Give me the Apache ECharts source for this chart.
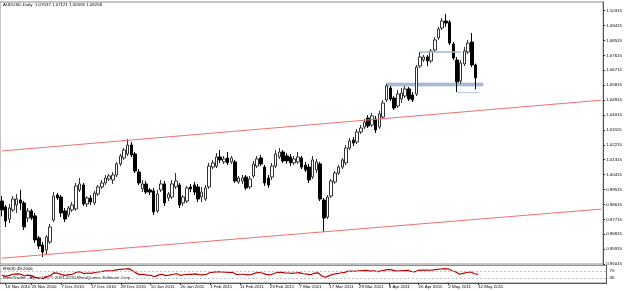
<!DOCTYPE html>
<html>
<head>
<meta charset="utf-8">
<title>AUDUSD Daily</title>
<script src="https://cdn.jsdelivr.net/npm/echarts@6/dist/echarts.min.js"></script>
<style>
html, body { margin: 0; padding: 0; background: #fff; }
#chart { width: 625px; height: 291px; }
</style>
</head>
<body>
<div id="chart"></div>
<script>
var symbolName = "AUDUSD,Daily";

var dates = [
  "15 Nov 2010","16 Nov 2010","17 Nov 2010","18 Nov 2010","19 Nov 2010","22 Nov 2010","23 Nov 2010","24 Nov 2010","25 Nov 2010","26 Nov 2010","29 Nov 2010","30 Nov 2010",
  "1 Dec 2010","2 Dec 2010","3 Dec 2010","6 Dec 2010","7 Dec 2010","8 Dec 2010","9 Dec 2010","10 Dec 2010","13 Dec 2010","14 Dec 2010","15 Dec 2010","16 Dec 2010","17 Dec 2010","20 Dec 2010","21 Dec 2010","22 Dec 2010","23 Dec 2010","24 Dec 2010","27 Dec 2010","28 Dec 2010","29 Dec 2010","30 Dec 2010","31 Dec 2010",
  "3 Jan 2011","4 Jan 2011","5 Jan 2011","6 Jan 2011","7 Jan 2011","10 Jan 2011","11 Jan 2011","12 Jan 2011","13 Jan 2011","14 Jan 2011","17 Jan 2011","18 Jan 2011","19 Jan 2011","20 Jan 2011","21 Jan 2011","24 Jan 2011","25 Jan 2011","26 Jan 2011","27 Jan 2011","28 Jan 2011","31 Jan 2011",
  "1 Feb 2011","2 Feb 2011","3 Feb 2011","4 Feb 2011","7 Feb 2011","8 Feb 2011","9 Feb 2011","10 Feb 2011","11 Feb 2011","14 Feb 2011","15 Feb 2011","16 Feb 2011","17 Feb 2011","18 Feb 2011","21 Feb 2011","22 Feb 2011","23 Feb 2011","24 Feb 2011","25 Feb 2011","28 Feb 2011",
  "1 Mar 2011","2 Mar 2011","3 Mar 2011","4 Mar 2011","7 Mar 2011","8 Mar 2011","9 Mar 2011","10 Mar 2011","11 Mar 2011","14 Mar 2011","15 Mar 2011","16 Mar 2011","17 Mar 2011","18 Mar 2011","21 Mar 2011","22 Mar 2011","23 Mar 2011","24 Mar 2011","25 Mar 2011","28 Mar 2011","29 Mar 2011","30 Mar 2011","31 Mar 2011",
  "1 Apr 2011","4 Apr 2011","5 Apr 2011","6 Apr 2011","7 Apr 2011","8 Apr 2011","11 Apr 2011","12 Apr 2011","13 Apr 2011","14 Apr 2011","15 Apr 2011","18 Apr 2011","19 Apr 2011","20 Apr 2011","21 Apr 2011","22 Apr 2011","25 Apr 2011","26 Apr 2011","27 Apr 2011","28 Apr 2011","29 Apr 2011",
  "2 May 2011","3 May 2011","4 May 2011","5 May 2011","6 May 2011","9 May 2011","10 May 2011","11 May 2011","12 May 2011"
];

var opens = [
  0.9882,0.9846,0.9773,0.9828,0.9858,0.9888,0.9870,0.9779,0.9822,0.9792,0.9659,0.9616,
  0.9586,0.9634,0.9767,0.9918,0.9906,0.9822,0.9798,0.9828,0.9834,0.9949,0.9979,0.9864,0.9900,0.9870,0.9924,0.9967,0.9991,1.0015,1.0009,1.0039,1.0106,1.0142,1.0166,
  1.0220,1.0166,1.0057,0.9955,0.9985,0.9949,0.9943,0.9822,0.9949,0.9985,0.9900,0.9906,0.9967,0.9979,0.9870,0.9882,0.9967,0.9979,0.9967,0.9906,0.9894,
  0.9967,1.0087,1.0093,1.0148,1.0118,1.0142,1.0118,1.0118,0.9997,1.0003,1.0027,0.9967,1.0033,1.0093,1.0142,1.0087,1.0021,1.0027,1.0093,1.0148,
  1.0178,1.0154,1.0148,1.0112,1.0118,1.0142,1.0099,1.0087,1.0027,1.0069,1.0106,0.9888,0.9785,0.9912,0.9997,1.0051,1.0087,1.0112,1.0202,1.0250,1.0238,1.0299,1.0329,
  1.0383,1.0341,1.0377,1.0329,1.0389,1.0492,1.0565,1.0504,1.0456,1.0498,1.0516,1.0559,1.0522,1.0528,1.0697,1.0734,1.0752,1.0728,1.0794,1.0867,1.0927,
  1.0969,1.0963,1.0830,1.0734,1.0607,1.0710,1.0782,1.0842,1.07037
];
var highs = [
  0.9912,0.9858,0.9864,0.9912,0.9924,0.9949,0.9882,0.9840,0.9834,0.9810,0.9671,0.9634,
  0.9677,0.9743,0.9936,0.9930,0.9918,0.9840,0.9852,0.9876,0.9991,1.0021,0.9991,0.9912,0.9918,0.9943,0.9979,1.0009,1.0039,1.0045,1.0057,1.0118,1.0166,1.0202,1.0257,
  1.0238,1.0178,1.0075,1.0009,1.0003,0.9961,0.9961,0.9949,1.0009,1.0003,0.9936,1.0009,1.0051,0.9991,0.9918,0.9973,0.9985,0.9997,0.9985,0.9967,0.9979,
  1.0112,1.0130,1.0172,1.0190,1.0154,1.0178,1.0154,1.0130,1.0033,1.0039,1.0039,1.0033,1.0124,1.0154,1.0160,1.0099,1.0039,1.0112,1.0190,1.0202,
  1.0190,1.0172,1.0166,1.0154,1.0178,1.0154,1.0118,1.0106,1.0154,1.0136,1.0118,0.9900,0.9918,1.0015,1.0063,1.0099,1.0142,1.0220,1.0263,1.0269,1.0317,1.0341,1.0377,
  1.0401,1.0414,1.0396,1.0426,1.0492,1.0589,1.0577,1.0516,1.0553,1.0565,1.0577,1.0571,1.0540,1.0704,1.0782,1.0764,1.0764,1.0800,1.0873,1.0933,1.0987,
  1.1012,1.0975,1.0842,1.0752,1.0734,1.0812,1.0855,1.0897,1.07121
];
var lows = [
  0.9789,0.9725,0.9749,0.9816,0.9810,0.9828,0.9707,0.9755,0.9767,0.9629,0.9592,0.9544,
  0.9556,0.9622,0.9755,0.9888,0.9785,0.9755,0.9785,0.9816,0.9822,0.9936,0.9852,0.9846,0.9858,0.9858,0.9912,0.9955,0.9979,1.0003,0.9985,1.0027,1.0093,1.0130,1.0154,
  1.0148,1.0051,0.9979,0.9936,0.9924,0.9918,0.9798,0.9810,0.9936,0.9852,0.9882,0.9894,0.9955,0.9840,0.9852,0.9870,0.9936,0.9918,0.9876,0.9876,0.9882,
  0.9955,1.0075,1.0081,1.0112,1.0106,1.0099,1.0106,0.9991,0.9985,0.9985,0.9949,0.9955,1.0021,1.0081,1.0093,0.9973,0.9961,1.0009,1.0081,1.0136,
  1.0112,1.0106,1.0093,1.0099,1.0106,1.0075,1.0057,0.9991,1.0015,1.0051,0.9882,0.9695,0.9773,0.9900,0.9985,1.0039,1.0075,1.0099,1.0190,1.0214,1.0226,1.0287,1.0317,
  1.0323,1.0329,1.0293,1.0317,1.0377,1.0480,1.0486,1.0432,1.0444,1.0474,1.0504,1.0486,1.0480,1.0516,1.0685,1.0722,1.0697,1.0716,1.0782,1.0855,1.0915,
  1.0933,1.0824,1.0734,1.0540,1.0590,1.0697,1.0770,1.0691,1.05555
];
var closes = [
  0.9828,0.9761,0.9840,0.9894,0.9894,0.9870,0.9725,0.9822,0.9779,0.9647,0.9610,0.9574,
  0.9665,0.9725,0.9912,0.9900,0.9810,0.9773,0.9840,0.9858,0.9973,0.9985,0.9864,0.9900,0.9876,0.9930,0.9967,0.9991,1.0021,1.0033,1.0039,1.0106,1.0154,1.0190,1.0220,
  1.0160,1.0063,0.9991,0.9985,0.9936,0.9936,0.9816,0.9924,0.9985,0.9870,0.9924,0.9985,1.0003,0.9858,0.9906,0.9961,0.9955,0.9936,0.9894,0.9936,0.9961,
  1.0093,1.0112,1.0148,1.0130,1.0136,1.0112,1.0142,1.0003,1.0021,1.0021,0.9961,1.0015,1.0106,1.0136,1.0106,0.9991,0.9979,1.0093,1.0166,1.0178,
  1.0124,1.0124,1.0112,1.0136,1.0148,1.0087,1.0069,1.0009,1.0130,1.0118,0.9894,0.9779,0.9906,1.0003,1.0051,1.0087,1.0130,1.0202,1.0245,1.0232,1.0299,1.0323,1.0359,
  1.0335,1.0396,1.0311,1.0408,1.0474,1.0577,1.0498,1.0444,1.0528,1.0534,1.0559,1.0498,1.0492,1.0691,1.0752,1.0752,1.0728,1.0788,1.0855,1.0921,1.0969,
  1.0957,1.0836,1.0746,1.0601,1.0716,1.0788,1.0836,1.0704,1.06258
];

var rsi = [
  46,38,44,50,52,51,40,45,42,32,28,25,
  35,42,58,56,48,44,48,50,62,
  64,54,57,55,60,63,66,69,70,71,76,78,80,82,
  72,58,48,50,45,44,36,45,50,42,45,50,53,44,47,
  50,49,52,48,46,50,60,62,65,63,62,60,61,48,
  50,50,46,48,56,60,57,49,46,53,60,62,58,57,55,57,59,53,51,47,56,58,
  40,33,42,50,54,57,61,
  66,68,67,70,71,72,68,70,65,70,74,78,74,68,70,71,72,66,64,
  72,74,74,73,75,78,80,82,80,70,63,50,55,60,63,53,49.2006
];
var rsiLevels = [70, 30];

var dateTicks = ["16 Nov 2010","25 Nov 2010","7 Dec 2010","17 Dec 2010","29 Dec 2010","10 Jan 2011","20 Jan 2011","1 Feb 2011","11 Feb 2011","23 Feb 2011","7 Mar 2011","17 Mar 2011","29 Mar 2011","8 Apr 2011","20 Apr 2011","2 May 2011","12 May 2011"];

// price scale of the main window
var priceMin = 0.95015, priceMax = 1.10840, priceStep = 0.009;
var lastSlot = 162; // chart shift: empty slots right of the last bar

// drawn objects: channel lines and the blue levels
var channelUpper = [1.01841, 1.04909];
var channelLower = [0.95366, 0.98331];
var zoneTop = 1.05948, zoneBottom = 1.05767, zoneFrom = 104, zoneTo = 130;
var levelHigh = 1.0782, levelHighFrom = 113, levelHighTo = 124;
var levelLow = 1.05404, levelLowFrom = 123, levelLowTo = 129;

var candles = [];
for (var i = 0; i < dates.length; i++) {
  candles.push([opens[i], closes[i], lows[i], highs[i]]);
}
// empty future slots so objects can run past the last bar
var slots = dates.slice();
while (slots.length <= lastSlot) slots.push("");

var n = dates.length - 1;
var header = symbolName + "  " + opens[n].toFixed(5) + " " + highs[n].toFixed(5) + " " + lows[n].toFixed(5) + " " + closes[n].toFixed(5);

var font = "Liberation Sans";
var fs = 4.4;
var ink = "#000";
function isTick(idx, val) { return dateTicks.indexOf(val) >= 0; }

var myChart = echarts.init(document.getElementById("chart"));
var option = {
  animation: false,
  backgroundColor: "#fff",
  textStyle: { fontFamily: font },
  grid: [
    { left: 0, right: 18.5, top: 2, height: 262, show: true, borderColor: "#8c8c8c", borderWidth: 1 },
    { left: 0, right: 18.5, top: 265.5, height: 17.5, show: true, borderColor: "#8c8c8c", borderWidth: 1 }
  ],
  xAxis: [
    {
      type: "category", gridIndex: 0, data: slots, boundaryGap: true,
      axisLine: { show: false }, axisTick: { show: false }, axisLabel: { show: false }, splitLine: { show: false }
    },
    {
      type: "category", gridIndex: 1, data: slots, boundaryGap: true,
      axisLine: { show: true, lineStyle: { color: "#555", width: 1 } },
      axisTick: { show: true, interval: isTick, alignWithLabel: true, length: 2, lineStyle: { color: "#333" } },
      axisLabel: { interval: isTick, align: "left", margin: 2, fontSize: fs, color: ink, fontFamily: font, hideOverlap: false },
      splitLine: { show: false }
    }
  ],
  yAxis: [
    {
      type: "value", gridIndex: 0, position: "right", min: priceMin, max: priceMax, interval: priceStep, scale: true,
      axisLine: { show: true, lineStyle: { color: "#555" } },
      axisTick: { show: true, length: 2, lineStyle: { color: "#333" } },
      axisLabel: {
        fontSize: fs, color: ink, margin: 3, showMaxLabel: false, fontFamily: font,
        formatter: function (v) { return v.toFixed(5); }
      },
      splitLine: { show: false }
    },
    {
      type: "value", gridIndex: 1, position: "right", min: 0, max: 100,
      axisLine: { show: true, lineStyle: { color: "#555" } },
      axisTick: { show: false }, axisLabel: { show: false }, splitLine: { show: false }
    }
  ],
  series: [
    {
      name: "AUDUSD", type: "candlestick", xAxisIndex: 0, yAxisIndex: 0,
      data: candles, barWidth: 3,
      itemStyle: { color: "#fff", color0: "#000", borderColor: "#333", borderColor0: "#000", borderWidth: 1 },
      markArea: {
        silent: true,
        itemStyle: { color: "#a9bcdc", borderColor: "#8ea4cc", borderWidth: 0.5 },
        data: [[{ coord: [zoneFrom, zoneTop] }, { coord: [zoneTo, zoneBottom] }]]
      },
      markLine: {
        silent: true, symbol: ["none", "none"],
        label: { show: false },
        data: [
          [{ coord: [0, channelUpper[0]], lineStyle: { color: "#f07070", width: 1, type: "solid" } },
           { coord: [lastSlot, channelUpper[1]] }],
          [{ coord: [0, channelLower[0]], lineStyle: { color: "#f07070", width: 1, type: "solid" } },
           { coord: [lastSlot, channelLower[1]] }],
          [{ coord: [levelHighFrom, levelHigh], lineStyle: { color: "#9fb3d8", width: 1.5, type: "solid" } },
           { coord: [levelHighTo, levelHigh] }],
          [{ coord: [levelLowFrom, levelLow], lineStyle: { color: "#b9c8e6", width: 1, type: "solid" } },
           { coord: [levelLowTo, levelLow] }],
          {
            yAxis: closes[n], lineStyle: { opacity: 0 },
            label: {
              show: true, position: "end", distance: 2, formatter: closes[n].toFixed(5),
              backgroundColor: "#000", color: "#fff", padding: [1, 2], fontSize: fs, fontFamily: font
            }
          }
        ]
      }
    },
    {
      name: "RSI", type: "line", xAxisIndex: 1, yAxisIndex: 1, data: rsi,
      showSymbol: false, symbol: "none",
      lineStyle: { color: "#b80000", width: 1.2 },
      markLine: {
        silent: true, symbol: ["none", "none"],
        lineStyle: { color: "#b4b4b4", width: 0.8, type: [2, 2] },
        label: { show: true, position: "end", distance: 3, fontSize: fs, color: ink, fontFamily: font },
        data: rsiLevels.map(function (v) { return { yAxis: v }; })
      }
    }
  ],
  graphic: [
    { type: "text", left: 3, top: 3, style: { text: header, fontSize: fs, fontFamily: font, fill: ink } },
    { type: "text", left: 3, top: 267, style: { text: "RSI(8) " + rsi[n].toFixed(4), fontSize: fs, fontFamily: font, fill: ink } },
    { type: "text", left: 3, top: 276, style: { text: "MetaTrader - Alpari UK, \u00a9 2001-2010 MetaQuotes Software Corp.", fontSize: fs, fontFamily: font, fill: ink } }
  ]
};
myChart.setOption(option, true);
</script>
</body>
</html>
